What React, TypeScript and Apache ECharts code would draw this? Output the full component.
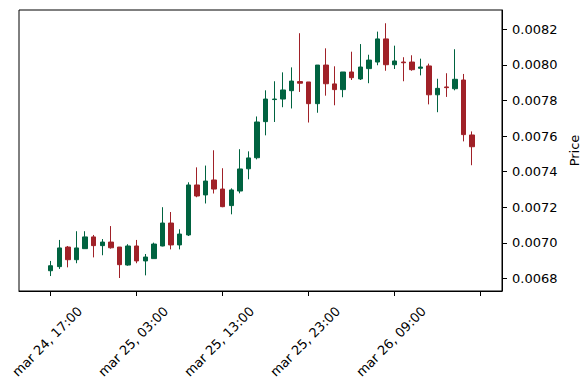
import React, { useEffect, useRef } from "react";
import * as echarts from "echarts";

const tickIndex = [0, 10, 20, 30, 40, 50];
const tickLabels = ["mar 24, 17:00", "mar 25, 03:00", "mar 25, 13:00", "mar 25, 23:00", "mar 26, 09:00", ""];
const priceTicks = [0.0068, 0.007, 0.0072, 0.0074, 0.0076, 0.0078, 0.008, 0.0082];

const opens = [
  0.006843, 0.006866, 0.006976, 0.006905, 0.006967, 0.007033, 0.006984, 0.007004, 0.006976, 0.006875,
  0.006982, 0.006898, 0.006911, 0.006982, 0.007111, 0.006988, 0.007044, 0.007325, 0.007269, 0.007353,
  0.007302, 0.007209, 0.007291, 0.007416, 0.007478, 0.007681, 0.007805, 0.007808, 0.007855, 0.007906,
  0.007904, 0.007782, 0.007999, 0.007893, 0.007861, 0.00796, 0.007921, 0.007979, 0.008016, 0.008146,
  0.008001, 0.008016, 0.008016, 0.007981, 0.007994, 0.007832, 0.007876, 0.007866, 0.007915, 0.007606,
];
const closes = [
  0.006871, 0.006971, 0.006905, 0.006971, 0.007033, 0.006984, 0.007004, 0.006972, 0.006877, 0.006982,
  0.006898, 0.00692, 0.006993, 0.007111, 0.006988, 0.007049, 0.007325, 0.007263, 0.007347, 0.007302,
  0.007203, 0.007297, 0.007415, 0.007477, 0.007679, 0.007808, 0.007808, 0.007859, 0.007909, 0.007897,
  0.007782, 0.007999, 0.007894, 0.007861, 0.00796, 0.007928, 0.007988, 0.008027, 0.008146, 0.008001,
  0.008022, 0.008012, 0.007973, 0.007988, 0.007832, 0.007868, 0.007872, 0.007919, 0.007608, 0.00754,
];
const lows = [
  0.006813, 0.006853, 0.006862, 0.006885, 0.006967, 0.006918, 0.00693, 0.006967, 0.006802, 0.006871,
  0.006885, 0.006817, 0.006911, 0.00698, 0.006963, 0.006963, 0.007038, 0.007256, 0.007221, 0.007277,
  0.0072, 0.00716, 0.007278, 0.007357, 0.007469, 0.007604, 0.007679, 0.007762, 0.007755, 0.007848,
  0.007676, 0.007731, 0.007827, 0.007773, 0.007818, 0.007915, 0.007915, 0.007897, 0.007998, 0.007967,
  0.007977, 0.007908, 0.007967, 0.007941, 0.007778, 0.007734, 0.00782, 0.007857, 0.00757, 0.007436,
];
const highs = [
  0.006898, 0.007016, 0.006982, 0.007065, 0.007065, 0.007044, 0.007021, 0.007094, 0.006976, 0.006992,
  0.007016, 0.006937, 0.007001, 0.0072, 0.007173, 0.007076, 0.00734, 0.007424, 0.007434, 0.00752,
  0.007419, 0.007306, 0.007526, 0.007514, 0.00771, 0.007857, 0.007908, 0.007958, 0.007986, 0.008178,
  0.007904, 0.007999, 0.008093, 0.007992, 0.00796, 0.008074, 0.008117, 0.008057, 0.008187, 0.008234,
  0.008108, 0.008043, 0.008054, 0.008035, 0.008007, 0.007922, 0.007953, 0.008088, 0.007949, 0.007626,
];

const UP = "#006340";
const DOWN = "#A02128";
const FONT = "DejaVu Sans";

export default function App() {
  const ref = useRef<HTMLDivElement>(null);
  useEffect(() => {
    if (!ref.current) return;
    const chart = echarts.init(ref.current, undefined, { renderer: "svg" });
    const data = opens.map((o, i) => [i, o, closes[i], lows[i], highs[i]]);
    chart.setOption({
      animation: false,
      backgroundColor: "#ffffff",
      grid: {
        left: 19,
        top: 10,
        width: 483,
        height: 281,
        show: true,
        borderColor: "#000",
        borderWidth: 1,
        backgroundColor: "transparent",
        outerBoundsMode: "none",
      },
      xAxis: {
        type: "value",
        min: -3.69,
        max: 52.48,
        splitLine: { show: false },
        axisLine: { show: true, onZero: false, lineStyle: { color: "#000", width: 1 } },
        axisTick: { show: true, customValues: tickIndex, length: 5, lineStyle: { color: "#000" } },
        axisLabel: {
          customValues: tickIndex,
          formatter: (v: number) => {
            const k = tickIndex.indexOf(Math.round(v));
            return k >= 0 ? tickLabels[k] : "";
          },
          rotate: 45,
          align: "center",
          verticalAlign: "middle",
          margin: 47,
          padding: [0, 10, 0, 0],
          fontFamily: FONT,
          fontSize: 13,
          color: "#000",
        },
      },
      yAxis: {
        type: "value",
        position: "right",
        min: 0.006729,
        max: 0.0083085,
        splitLine: { show: false },
        axisLine: { show: true, onZero: false, lineStyle: { color: "#000", width: 1 } },
        axisTick: { show: true, customValues: priceTicks, length: 5, lineStyle: { color: "#000" } },
        axisLabel: {
          customValues: priceTicks,
          formatter: (v: number) => v.toFixed(4),
          margin: 10,
          fontFamily: FONT,
          fontSize: 13,
          color: "#000",
        },
        name: "Price",
        nameLocation: "middle",
        nameRotate: 90,
        nameGap: 62,
        nameTextStyle: { fontFamily: FONT, fontSize: 13, color: "#000" },
      },
      series: [
        {
          type: "candlestick",
          dimensions: ["idx", "open", "close", "low", "high"],
          encode: { x: "idx", y: ["open", "close", "low", "high"] },
          data,
          barWidth: 5,
          itemStyle: {
            color: UP,
            color0: DOWN,
            borderColor: UP,
            borderColor0: DOWN,
            borderWidth: 1,
          },
        },
      ],
    });
    return () => chart.dispose();
  }, []);
  return (
    <div
      ref={ref}
      style={{ position: "fixed", left: 0, top: 0, width: 588, height: 390, background: "#fff" }}
    />
  );
}
